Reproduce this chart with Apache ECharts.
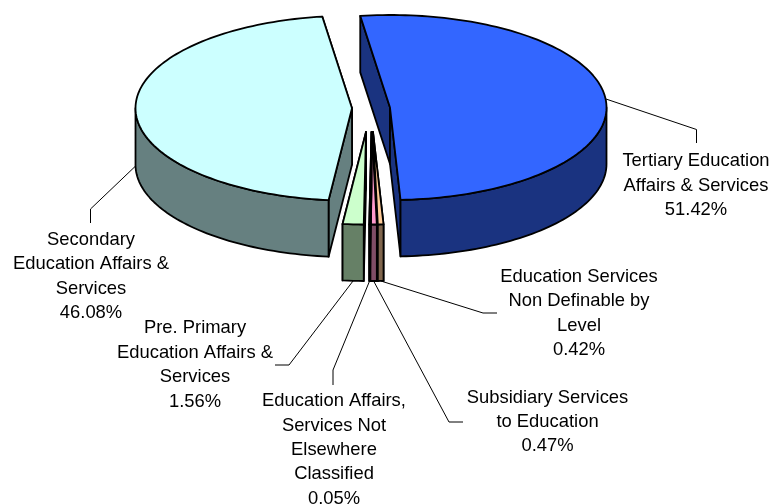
<!DOCTYPE html>
<html>
<head>
<meta charset="utf-8">
<style>html,body{margin:0;padding:0;background:#fff}#c{width:770px;height:504px}</style>
<script src="https://cdn.jsdelivr.net/npm/echarts@6/dist/echarts.min.js"></script>
</head>
<body>
<div id="c"></div>
<script>
// Data, clockwise from the pie's start angle
var categories = [
  'Tertiary Education\nAffairs & Services',
  'Education Services\nNon Definable by\nLevel',
  'Subsidiary Services\nto Education',
  'Education Affairs,\nServices Not\nElsewhere\nClassified',
  'Pre. Primary\nEducation Affairs &\nServices',
  'Secondary\nEducation Affairs &\nServices'
];
var shares = [51.42, 0.42, 0.47, 0.05, 1.56, 46.08];
var topColors  = ['#3366FF', '#FFCC99', '#FF99CC', '#000000', '#CCFFCC', '#CCFFFF'];
var sideColors = ['#1A3380', '#80664D', '#804D66', '#000000', '#668066', '#668080'];

// 3D projection settings
var startAngle = -7.9, rx = 216.5, ry = 92.5, depth = 56.5, baseX = 371, baseY = 108;
var explode = [[19, -0.5], [2, 24], [1, 24], [0.5, 24], [-5, 24], [-19, 0.2]];
// Label placement: centre of text block, leader elbow and leader end; anchor level on wall (0 top, 1 bottom)
var labelAt = [[696, 185.5], [579, 313.5], [547.5, 422], [334, 450], [195, 365], [91, 276.5]];
var leaderVia = [[[696.5, 129.5], [696.5, 143]], [[483, 313], [497, 313]], [[449, 422], [463, 422]],
                 [[333, 370], [333, 385]], [[289, 365], [275, 365]], [[90.5, 209], [90.5, 223]]];
var anchorLevel = [0, 1, 1, 1, 1, 1];

var total = shares.reduce(function (a, b) { return a + b; }, 0);
var acc = 0;
var spans = shares.map(function (v) {
  var s = startAngle + acc / total * 360;
  acc += v;
  return [s, startAngle + acc / total * 360];
});

function renderSlice(params, api) {
  var i = params.dataIndex, v = api.value(0);
  var a0 = spans[i][0], a1 = spans[i][1];
  var cx = baseX + explode[i][0], cy = baseY + explode[i][1];
  function pt(deg, d) {
    var r = deg * Math.PI / 180;
    return [cx + rx * Math.sin(r), cy - ry * Math.cos(r) + (d || 0)];
  }
  function arc(from, to, d) {
    var n = Math.max(2, Math.ceil(Math.abs(to - from) / 1.5)), out = [];
    for (var k = 0; k <= n; k++) out.push(pt(from + (to - from) * k / n, d));
    return out;
  }
  var apex = [cx, cy], apexB = [cx, cy + depth];
  var common = { stroke: '#000', lineWidth: 1.8, lineJoin: 'round' };
  function poly(points, fill) {
    return { type: 'polygon', shape: { points: points }, style: Object.assign({ fill: fill }, common), silent: true };
  }
  var children = [];
  var faces = [a0, a1].sort(function (p, q) { return pt(p)[1] - pt(q)[1]; });
  faces.forEach(function (a) {
    children.push(poly([apex, pt(a), pt(a, depth), apexB], sideColors[i]));
  });
  var w0 = Math.max(a0, 90), w1 = Math.min(a1, 270);
  if (w1 > w0) {
    children.push(poly(arc(w0, w1, 0).concat(arc(w1, w0, depth)), sideColors[i]));
  }
  children.push(poly([apex].concat(arc(a0, a1, 0)), topColors[i]));

  var mid = (a0 + a1) / 2;
  var line = [pt(mid, anchorLevel[i] * depth)].concat(leaderVia[i]);
  children.push({
    type: 'polyline', shape: { points: line }, silent: true,
    style: { fill: null, stroke: '#000', lineWidth: 1 }
  });
  children.push({
    type: 'text', silent: true, x: labelAt[i][0], y: labelAt[i][1],
    style: {
      text: categories[i] + '\n' + v.toFixed(2) + '%',
      align: 'center', verticalAlign: 'middle', textAlign: 'center', textVerticalAlign: 'middle',
      font: '18.4px "Liberation Sans", Arial, sans-serif', lineHeight: 24.4, fill: '#000'
    }
  });
  return { type: 'group', children: children };
}

var chart = echarts.init(document.getElementById('c'), null, { renderer: 'canvas' });
chart.setOption({
  animation: false,
  backgroundColor: '#fff',
  series: [{
    type: 'custom',
    coordinateSystem: 'none',
    renderItem: renderSlice,
    clip: false,
    data: shares.map(function (v, i) { return { name: categories[i], value: [v] }; })
  }]
});
</script>
</body>
</html>
